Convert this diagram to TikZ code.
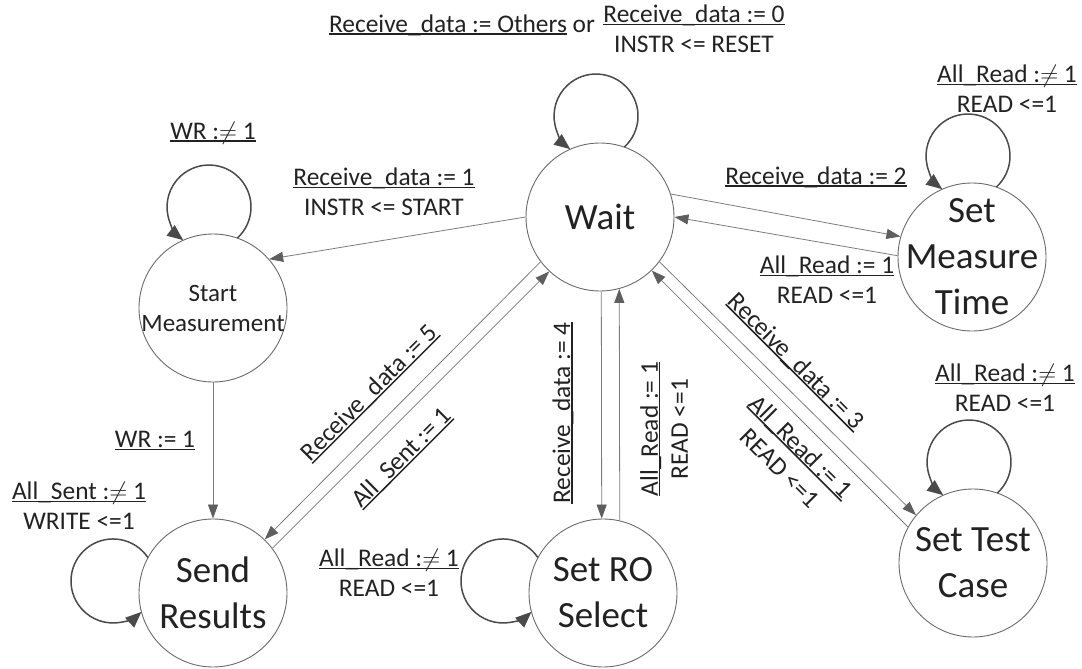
\documentclass[tikz,border=0pt]{standalone}
\usepackage{fontspec}
\setmainfont{Carlito}
\usetikzlibrary{arrows.meta}

\definecolor{ink}{HTML}{222222}
\definecolor{rimgray}{HTML}{6A6A6A}
\definecolor{wiregray}{HTML}{7C7C7C}
\definecolor{tipgray}{HTML}{5E5E5E}
\definecolor{loopgray}{HTML}{4A4A4A}

% underline drawn at a fixed depth, just above the underscores
\newcommand{\undl}[1]{\setbox0\hbox{#1}\rlap{\rule[-0.1em]{\wd0}{0.06em}}\box0\relax}
\newcommand{\stfont}{\fontsize{37}{46}\selectfont}
\newcommand{\smstfont}{\fontsize{25}{30}\selectfont}
\newcommand{\lblfont}{\fontsize{25.4}{30}\selectfont}

\begin{document}
\begin{tikzpicture}[x=1pt,y=-1pt,
  stnode/.style={circle, draw=rimgray, line width=0.9pt, minimum size=148pt, inner sep=0pt},
  sttext/.style={text=ink, font=\stfont, align=center, inner sep=0pt},
  smtext/.style={text=ink, font=\smstfont, align=center, inner sep=0pt},
  lbl/.style={text=ink, font=\lblfont, align=center, inner sep=0pt},
  wire/.style={draw=wiregray, line width=0.8pt, -{Triangle[length=14pt,width=10pt,color=tipgray]}},
  selfloop/.style={draw=loopgray, line width=1.5pt, -{Triangle[length=16pt,width=13pt]}}]

\useasboundingbox (0,0) rectangle (1082,669);

% states
\node[stnode, label={[sttext]center:Wait}] (W) at (600,217) {};
\node[stnode, label={[smtext]center:Start\\Measurement}] (SM) at (213,308) {};
\node[stnode, label={[sttext]center:Send\\Results}] (SR) at (213,593) {};
\node[stnode, label={[sttext]center:Set RO\\Select}] (RO) at (603,593) {};
\node[stnode, label={[sttext]center:Set Test\\Case}] (TC) at (973,563) {};
\node[stnode, label={[sttext]center:Set\\Measure\\Time}] (MT) at (972,257) {};

% transitions between states
\draw[wire] (W.180) -- (SM.41.1);
\draw[wire] (SM) -- (SR);
\draw[wire] (W.-143.1) -- (SR.46.6);
\draw[wire] (SR.37.5) -- (W.-133.4);
\draw[wire] (W.-89) -- (RO.91.5);
\draw[wire] (RO.77.5) -- (W.-75.1);
\draw[wire] (W.-37.3) -- (TC.140.4);
\draw[wire] (TC.151.4) -- (W.-46.6);
\draw[wire] (W.18.2) -- (MT.164.5);
\draw[wire] (MT.179.2) -- (W.-0.8);

% self loops
\draw[selfloop] ([shift={(24.4,-70)}]W.center) arc[start angle=-47.5, end angle=232.1, radius=42pt];
\draw[selfloop] ([shift={(24.4,-70)}]SM.center) arc[start angle=-47.5, end angle=232.1, radius=42pt];
\draw[selfloop] ([shift={(24.4,-70)}]MT.center) arc[start angle=-47.5, end angle=232.1, radius=42pt];
\draw[selfloop] ([shift={(24.4,-70)}]TC.center) arc[start angle=-47.5, end angle=232.1, radius=42pt];
\draw[selfloop] ([shift={(-65.1,-35.4)}]SR.center) arc[start angle=33.8, end angle=312.6, radius=42pt];
\draw[selfloop] ([shift={(-65.1,-35.4)}]RO.center) arc[start angle=33.8, end angle=312.6, radius=42pt];

% transition labels
\node[lbl] (lwa) at (462,25) {\undl{Receive\_data := Others} or};
\node[lbl] (lwb) at (694,29) {\undl{Receive\_data := 0}\\INSTR <= RESET};
\node[lbl] (lsm) at (213,133) {\undl{WR :$\neq$ 1}};
\node[lbl] (lwsm) at (384,192) {\undl{Receive\_data := 1}\\INSTR <= START};
\node[lbl] (lsmsr) at (155,441) {\undl{WR := 1}};
\node[lbl] (lsr) at (79,506) {\undl{All\_Sent :$\neq$ 1}\\WRITE <=1};
\node[lbl] (lro) at (389,573) {\undl{All\_Read :$\neq$ 1}\\READ <=1};
\node[lbl, rotate=45] (lwsr) at (370,393) {\undl{Receive\_data := 5}};
\node[lbl, rotate=45] (lsrw) at (402,458) {\undl{All\_Sent := 1}};
\node[lbl, rotate=90] (lwro) at (563,413) {\undl{Receive\_data := 4}};
\node[lbl, rotate=90] (lrow) at (664,429) {\undl{All\_Read := 1}\\READ <=1};
\node[lbl, rotate=-45] (lwtc) at (796,362) {\undl{Receive\_data := 3}};
\node[lbl, rotate=-45] (ltcw) at (791,457) {\undl{All\_Read := 1}\\READ <=1};
\node[lbl] (lwmt) at (816,177) {\undl{Receive\_data := 2}};
\node[lbl] (lmtw) at (827,280) {\undl{All\_Read := 1}\\READ <=1};
\node[lbl] (lmt) at (1007,89) {\undl{All\_Read :$\neq$ 1}\\READ <=1};
\node[lbl] (ltc) at (1005,388) {\undl{All\_Read :$\neq$ 1}\\READ <=1};

\end{tikzpicture}
\end{document}
